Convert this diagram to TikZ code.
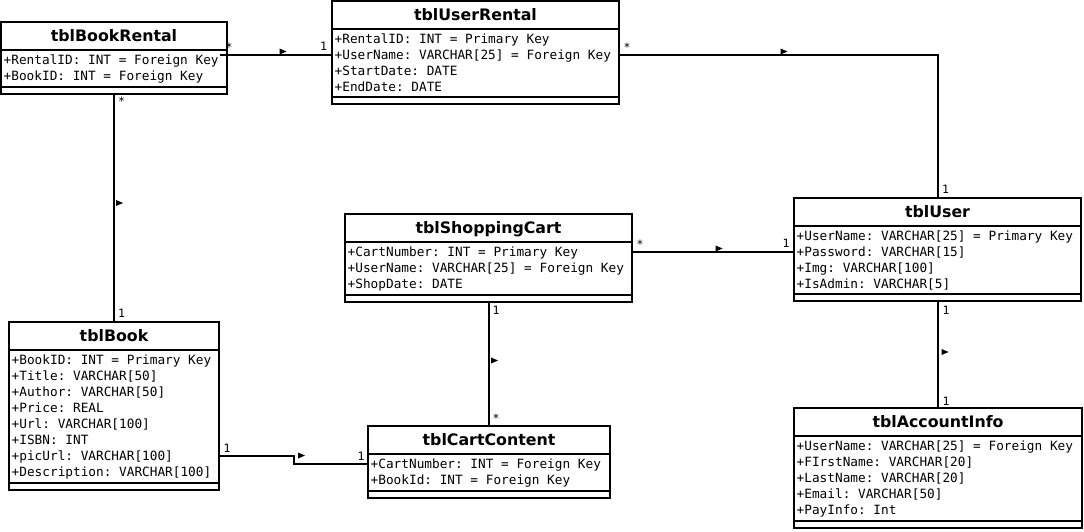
\documentclass[tikz,border=0pt]{standalone}
\usepackage{fontspec}
\setsansfont{DejaVu Sans}
\setmonofont{DejaVu Sans Mono}
\tikzset{
  cls/.style={draw, line width=2.2pt, rectangle, inner sep=0pt, outer sep=0pt, anchor=north west},
  sepline/.style={line width=2.2pt},
  ttl/.style={font=\sffamily\bfseries\fontsize{15.8}{19}\selectfont, inner sep=0pt, anchor=base},
  attr/.style={font=\ttfamily\fontsize{12.75}{16}\selectfont, inner sep=0pt, anchor=base west},
  mult/.style={font=\ttfamily\fontsize{11.5}{13}\selectfont, inner sep=0pt, anchor=base},
  conn/.style={line width=2.2pt},
  mk/.pic={\fill (-3.5pt,-3pt) -- (3.5pt,0pt) -- (-3.5pt,3pt) -- cycle;}
}
\newcommand\umlcls[7]{%
  \node[cls, minimum width=#4pt, minimum height=#5pt] (#1) at (#2,#3) {};
  \draw[sepline] ([yshift=-28pt]#1.north west) -- ([yshift=-28pt]#1.north east);
  \draw[sepline] ([yshift=7pt]#1.south west) -- ([yshift=7pt]#1.south east);
  \node[ttl] (#1-t) at ([yshift=-19.5pt]#1.north) {#6};
  \foreach \a [count=\i] in {#7}
    \node[attr] (#1-\i) at ([xshift=2.5pt,yshift={-(42.5+16*(\i-1))*1pt}]#1.north west) {\ignorespaces\a};
}
\begin{document}
\begin{tikzpicture}[x=1pt,y=-1pt]
\fill[white] (0,0) rectangle (1084,532);
\useasboundingbox (0,0) rectangle (1084,532);

\umlcls{br}{1}{22}{226}{72}{tblBookRental}{+RentalID: INT = Foreign Key,+BookID: INT = Foreign Key}
\umlcls{ur}{332}{1}{287}{103}{tblUserRental}{+RentalID: INT = Primary Key,+UserName: VARCHAR[25] = Foreign Key,+StartDate: DATE,+EndDate: DATE}
\umlcls{user}{794}{198}{287}{103}{tblUser}{+UserName: VARCHAR[25] = Primary Key,+Password: VARCHAR[15],+Img: VARCHAR[100],+IsAdmin: VARCHAR[5]}
\umlcls{sc}{345}{214}{287}{88}{tblShoppingCart}{+CartNumber: INT = Primary Key,+UserName: VARCHAR[25] = Foreign Key,+ShopDate: DATE}
\umlcls{cc}{368}{426}{242}{72}{tblCartContent}{+CartNumber: INT = Foreign Key,+BookId: INT = Foreign Key}
\umlcls{book}{9}{322}{210}{168}{tblBook}{+BookID: INT = Primary Key,+Title: VARCHAR[50],+Author: VARCHAR[50],+Price: REAL,+Url: VARCHAR[100],+ISBN: INT,+picUrl: VARCHAR[100],+Description: VARCHAR[100]}
\umlcls{ai}{794}{408}{288}{120}{tblAccountInfo}{+UserName: VARCHAR[25] = Foreign Key,+FIrstName: VARCHAR[20],+LastName: VARCHAR[20],+Email: VARCHAR[50],+PayInfo: Int}

% connectors
\coordinate (brE) at ([xshift=-7pt,yshift=-33pt]br.north east);
\coordinate (urW) at ([yshift=-54pt]ur.north west);
\coordinate (urE) at ([yshift=-54pt]ur.north east);
\coordinate (scE) at ([yshift=-38pt]sc.north east);
\coordinate (bkE) at ([yshift=-134pt]book.north east);
\coordinate (ccW) at ([yshift=-38pt]cc.north west);
\draw[conn] (brE) -- (urW);
\draw[conn] (urE) -- (urE -| ai.north) -- (ai.north |- user.north);
\draw[conn] (br.south) -- (book.north);
\draw[conn] (scE) -- (scE -| user.west);
\draw[conn] (cc.north |- sc.south) -- (cc.north);
\draw[conn] (ai.north |- user.south) -- (ai.north);
\draw[conn] (bkE) -- ++(75pt,0pt) |- (ccW);

% direction markers
\pic at (283,51.5) {mk};
\pic at (784,51.5) {mk};
\pic at (119.5,203) {mk};
\pic at (719,248.5) {mk};
\pic at (494.5,360.5) {mk};
\pic at (945,352) {mk};
\pic at (301.5,455.5) {mk};

% multiplicities
\node[mult] (m1) at (229,51.7) {*};
\node[mult] (m2) at (323.5,50.7) {1};
\node[mult] (m3) at (627,51.7) {*};
\node[mult] (m4) at (945.5,193) {1};
\node[mult] (m5) at (121.5,106) {*};
\node[mult] (m6) at (121.5,317) {1};
\node[mult] (m7) at (640,248.7) {*};
\node[mult] (m8) at (786,247) {1};
\node[mult] (m9) at (496,314) {1};
\node[mult] (m10) at (496,422.7) {*};
\node[mult] (m11) at (946,314) {1};
\node[mult] (m12) at (946,405) {1};
\node[mult] (m13) at (227,452) {1};
\node[mult] (m14) at (361,460) {1};
\end{tikzpicture}
\end{document}
